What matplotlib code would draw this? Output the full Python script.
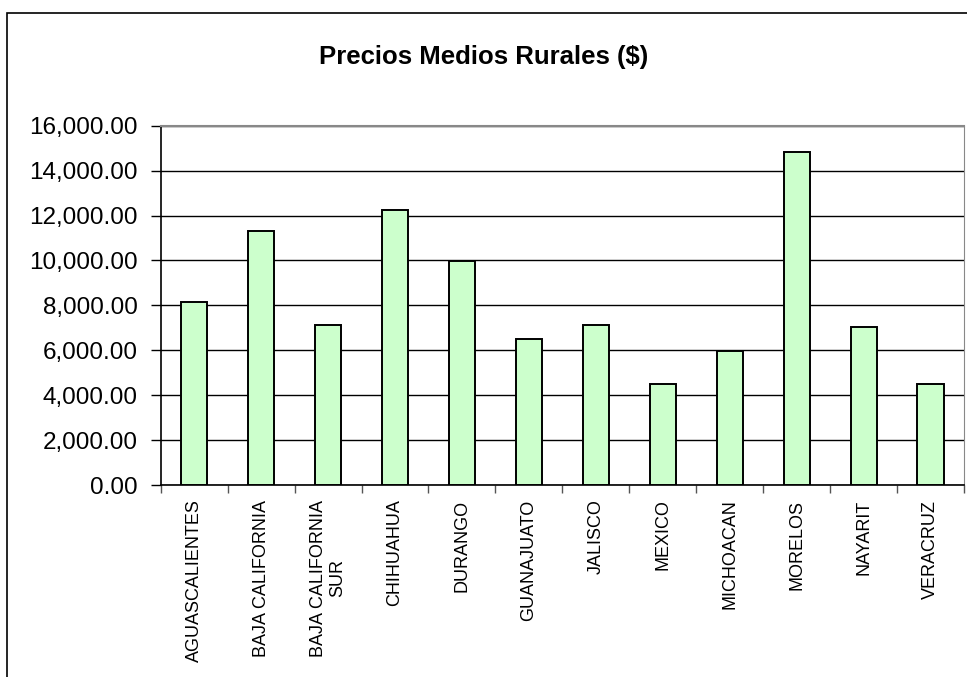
import numpy as np
import matplotlib.pyplot as plt
from matplotlib.patches import Rectangle
from matplotlib.ticker import FuncFormatter, FixedLocator

plt.rcParams['font.family'] = ['Liberation Sans', 'DejaVu Sans']

# Datos
estados = ['AGUASCALIENTES', 'BAJA CALIFORNIA', 'BAJA CALIFORNIA\nSUR', 'CHIHUAHUA',
           'DURANGO', 'GUANAJUATO', 'JALISCO', 'MEXICO', 'MICHOACAN', 'MORELOS',
           'NAYARIT', 'VERACRUZ']
precios = [8140, 11330, 7140, 12260, 9990, 6500, 7140, 4480, 5970, 14830, 7050, 4480]
y_ticks = [0, 2000, 4000, 6000, 8000, 10000, 12000, 14000, 16000]

fig = plt.figure(figsize=(9.67, 6.77), dpi=100)
ax = fig.add_axes([0.1662, 0.2836, 0.9969 - 0.1662, 0.8143 - 0.2836])

x = np.arange(len(estados))
ax.bar(x, precios, width=0.39, color='#CCFFCC', edgecolor='black', linewidth=1.4, zorder=3)

ax.set_xlim(-0.5, len(estados) - 0.5)
ax.set_ylim(0, 16000)
ax.set_yticks(y_ticks)
ax.yaxis.set_major_formatter(FuncFormatter(lambda v, p: '{:,.2f}'.format(v)))
ax.tick_params(axis='y', labelsize=17.5, length=7, width=1, direction='out', pad=9.5)
ax.grid(axis='y', color='black', linewidth=1, zorder=0)

# etiquetas de categoria y marcas en los limites
ax.set_xticks(x)
ax.set_xticklabels(estados, rotation=90, fontsize=13, ha='center', va='top',
                   multialignment='center')
ax.tick_params(axis='x', which='major', length=0, pad=10.5)
ax.xaxis.set_minor_locator(FixedLocator(np.arange(-0.5, len(estados), 1.0)))
ax.tick_params(axis='x', which='minor', length=6, width=1, color='#555555')

for s in ['left', 'bottom']:
    ax.spines[s].set_color('black')
    ax.spines[s].set_linewidth(1.2)
ax.spines['right'].set_color('#888888')
ax.spines['top'].set_color('#888888')
ax.spines['top'].set_linewidth(1.5)

fig.text(0.5, 1 - 57 / 677, 'Precios Medios Rurales ($)', ha='center', va='center',
         fontsize=18.5, fontweight='bold')

# marco exterior del grafico
fig.patches.append(Rectangle((7 / 967, -0.1), 1.2, 1 - 13 / 677 + 0.1, transform=fig.transFigure,
                             fill=False, edgecolor='black', linewidth=1.2))

fig.savefig('out.png', dpi=100)
